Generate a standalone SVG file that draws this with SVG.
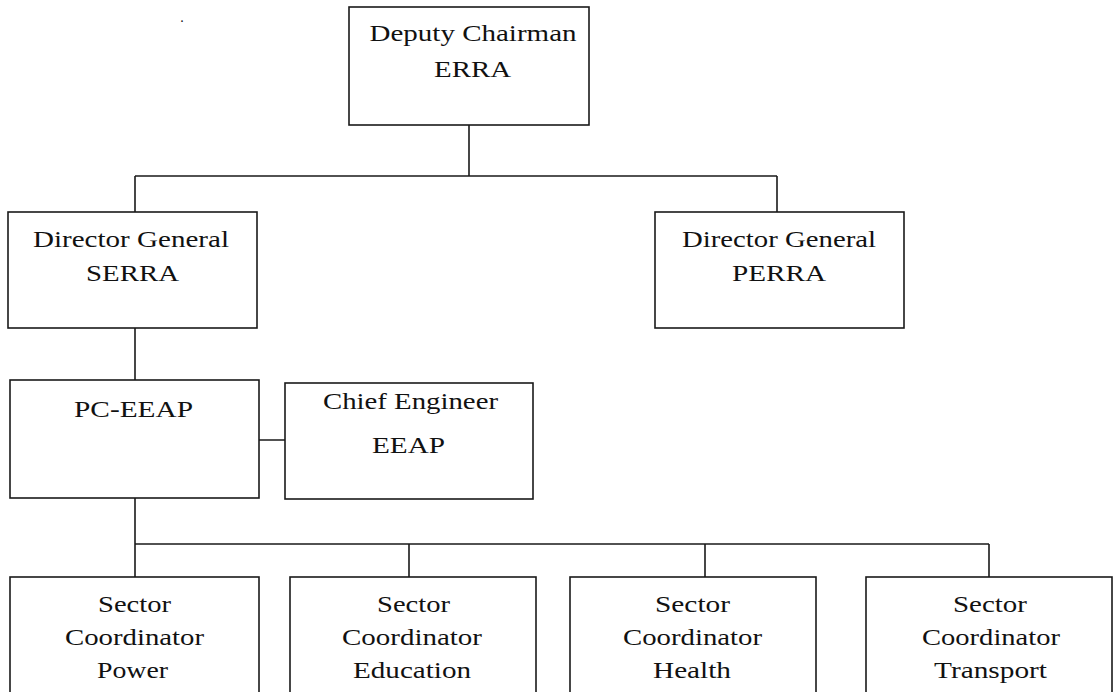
<svg xmlns="http://www.w3.org/2000/svg" width="1114" height="692" viewBox="0 0 1114 692">
<style>
.box{fill:#fff;stroke:#1a1a1a;stroke-width:1.6}
.ln{fill:none;stroke:#1a1a1a;stroke-width:1.6}
text{font-family:"Liberation Serif","Times New Roman",serif;font-size:23px;fill:#111;text-anchor:middle}
</style>
<rect width="1114" height="692" fill="#fff"/>
<text x="182" y="22" style="font-size:14px">.</text>
<g id="connectors">
<path class="ln" d="M469,125V176M135,176H777M135,176V212M777,176V212M135,328V380M259,440H285M135,498V577M135,544H989M409,544V577M705,544V577M989,544V577"/>
</g>
<g id="deputy-chairman">
<rect class="box" x="349" y="7" width="240" height="118"/>
<text x="473" y="41" textLength="207" lengthAdjust="spacingAndGlyphs">Deputy Chairman</text>
<text x="472.5" y="77" textLength="77" lengthAdjust="spacingAndGlyphs">ERRA</text>
</g>
<g id="dg-serra">
<rect class="box" x="8" y="212" width="249" height="116"/>
<text x="131" y="247" textLength="196" lengthAdjust="spacingAndGlyphs">Director General</text>
<text x="132.5" y="281" textLength="93" lengthAdjust="spacingAndGlyphs">SERRA</text>
</g>
<g id="dg-perra">
<rect class="box" x="655" y="212" width="249" height="116"/>
<text x="779" y="247" textLength="194" lengthAdjust="spacingAndGlyphs">Director General</text>
<text x="779" y="281" textLength="94" lengthAdjust="spacingAndGlyphs">PERRA</text>
</g>
<g id="pc-eeap">
<rect class="box" x="10" y="380" width="249" height="118"/>
<text x="133.5" y="417" textLength="119" lengthAdjust="spacingAndGlyphs">PC-EEAP</text>
</g>
<g id="chief-engineer">
<rect class="box" x="285" y="383" width="248" height="116"/>
<text x="410.5" y="409" textLength="175" lengthAdjust="spacingAndGlyphs">Chief Engineer</text>
<text x="408.5" y="453" textLength="73" lengthAdjust="spacingAndGlyphs">EEAP</text>
</g>
<g id="sc-power">
<rect class="box" x="10" y="577" width="249" height="120"/>
<text x="134.5" y="612" textLength="73" lengthAdjust="spacingAndGlyphs">Sector</text>
<text x="134.5" y="645" textLength="139" lengthAdjust="spacingAndGlyphs">Coordinator</text>
<text x="132.5" y="678" textLength="71" lengthAdjust="spacingAndGlyphs">Power</text>
</g>
<g id="sc-education">
<rect class="box" x="290" y="577" width="246" height="120"/>
<text x="413.5" y="612" textLength="73" lengthAdjust="spacingAndGlyphs">Sector</text>
<text x="412" y="645" textLength="140" lengthAdjust="spacingAndGlyphs">Coordinator</text>
<text x="412" y="678" textLength="118" lengthAdjust="spacingAndGlyphs">Education</text>
</g>
<g id="sc-health">
<rect class="box" x="570" y="577" width="246" height="120"/>
<text x="692.5" y="612" textLength="75" lengthAdjust="spacingAndGlyphs">Sector</text>
<text x="692.5" y="645" textLength="139" lengthAdjust="spacingAndGlyphs">Coordinator</text>
<text x="692" y="678" textLength="78" lengthAdjust="spacingAndGlyphs">Health</text>
</g>
<g id="sc-transport">
<rect class="box" x="866" y="577" width="246" height="120"/>
<text x="990" y="612" textLength="74" lengthAdjust="spacingAndGlyphs">Sector</text>
<text x="991" y="645" textLength="138" lengthAdjust="spacingAndGlyphs">Coordinator</text>
<text x="990.5" y="678" textLength="113" lengthAdjust="spacingAndGlyphs">Transport</text>
</g>
</svg>
